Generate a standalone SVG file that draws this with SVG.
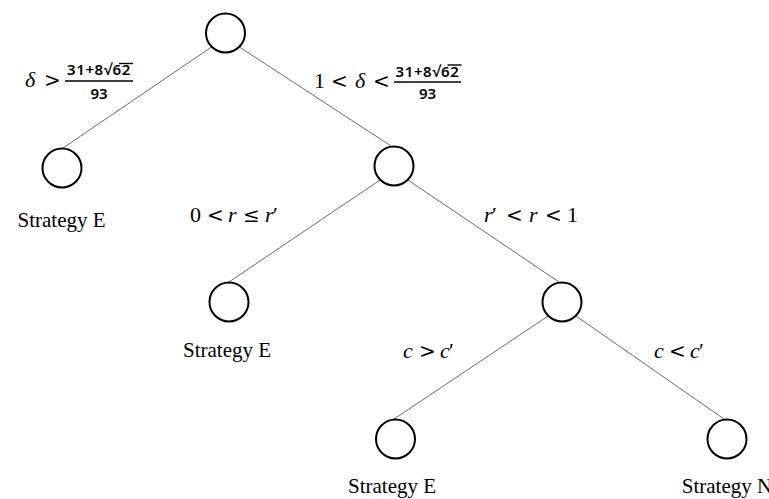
<svg xmlns="http://www.w3.org/2000/svg" width="769" height="499" viewBox="0 0 769 499">
  <style>
    .node { fill: #ffffff; stroke: #000000; stroke-width: 2; }
    .edge { stroke: #6a6a6a; stroke-width: 1; fill: none; }
    .leaf { font-family: "Liberation Serif", "Times New Roman", serif; font-size: 21px; fill: #000; text-anchor: middle; }
    .math { font-family: "Liberation Serif", "Times New Roman", serif; font-size: 22px; fill: #000; }
    .var { font-style: italic; }
    .op { font-family: "DejaVu Serif", serif; font-size: 20px; }
    .frac { font-family: "Noto Sans", "Open Sans", sans-serif; font-weight: 600; font-size: 15px; fill: #000; text-anchor: middle; }
    .bar { stroke: #000; stroke-width: 1.4; }
  </style>

  <!-- branches -->
  <g id="connectors">
    <line class="edge" x1="211.4" y1="47.1" x2="63" y2="148"/>
    <line class="edge" x1="239.6" y1="47.1" x2="391" y2="146"/>
    <line class="edge" x1="379.9" y1="180.1" x2="229" y2="282"/>
    <line class="edge" x1="408.1" y1="180.1" x2="559" y2="282"/>
    <line class="edge" x1="547.9" y1="316.1" x2="394" y2="419"/>
    <line class="edge" x1="576.1" y1="316.1" x2="724" y2="419"/>
  </g>

  <!-- decision nodes -->
  <g id="root">
    <circle class="node" cx="225.5" cy="33" r="19.5"/>
  </g>
  <g id="leaf-delta-high">
    <circle class="node" cx="62" cy="168" r="19.5"/>
    <text class="leaf" x="61.5" y="227">Strategy E</text>
  </g>
  <g id="node-delta-mid">
    <circle class="node" cx="394" cy="166" r="19.5"/>
  </g>
  <g id="leaf-r-low">
    <circle class="node" cx="229" cy="302" r="19.5"/>
    <text class="leaf" x="227" y="357">Strategy E</text>
  </g>
  <g id="node-r-high">
    <circle class="node" cx="562" cy="302" r="19.5"/>
  </g>
  <g id="leaf-c-high">
    <circle class="node" cx="395.5" cy="439" r="19.5"/>
    <text class="leaf" x="392" y="493">Strategy E</text>
  </g>
  <g id="leaf-c-low">
    <circle class="node" cx="727" cy="439" r="19.5"/>
    <text class="leaf" x="727" y="493">Strategy N</text>
  </g>

  <!-- branch conditions -->
  <g id="label-delta-high">
    <text class="math" y="87"><tspan class="var" x="25">δ</tspan><tspan class="op" x="44">&gt;</tspan></text>
    <text class="frac" x="99" y="75" letter-spacing="0.6">31+8√62</text>
    <line class="bar" x1="119" y1="63.5" x2="133" y2="63.5"/>
    <line class="bar" x1="65" y1="81" x2="133" y2="81"/>
    <text class="frac" x="99" y="99">93</text>
  </g>
  <g id="label-delta-mid">
    <text class="math" y="88"><tspan x="314">1</tspan><tspan class="op" x="331">&lt;</tspan><tspan class="var" x="355">δ</tspan><tspan class="op" x="373">&lt;</tspan></text>
    <text class="frac" x="427.5" y="76.5" letter-spacing="0.6">31+8√62</text>
    <line class="bar" x1="447.5" y1="65" x2="461.5" y2="65"/>
    <line class="bar" x1="394" y1="82" x2="461" y2="82"/>
    <text class="frac" x="427.5" y="99">93</text>
  </g>
  <g id="label-r-low">
    <text class="math" y="222"><tspan x="190">0</tspan><tspan class="op" x="207">&lt;</tspan><tspan class="var" x="228">r</tspan><tspan class="op" x="243">≤</tspan><tspan class="var" x="265">r</tspan><tspan x="273">′</tspan></text>
  </g>
  <g id="label-r-high">
    <text class="math" y="222"><tspan class="var" x="484">r</tspan><tspan x="492">′</tspan><tspan class="op" x="506">&lt;</tspan><tspan class="var" x="529">r</tspan><tspan class="op" x="545">&lt;</tspan><tspan x="567">1</tspan></text>
  </g>
  <g id="label-c-high">
    <text class="math" y="358"><tspan class="var" x="403">c</tspan><tspan class="op" x="419">&gt;</tspan><tspan class="var" x="440">c</tspan><tspan x="449">′</tspan></text>
  </g>
  <g id="label-c-low">
    <text class="math" y="358"><tspan class="var" x="654">c</tspan><tspan class="op" x="669">&lt;</tspan><tspan class="var" x="690">c</tspan><tspan x="699">′</tspan></text>
  </g>
</svg>
